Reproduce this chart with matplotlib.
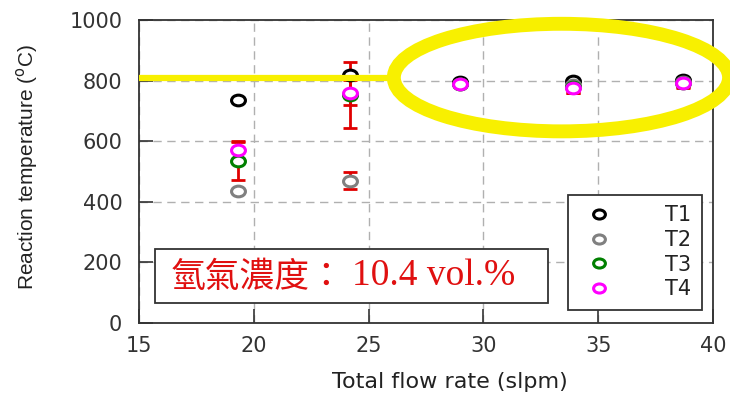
import matplotlib
matplotlib.use("Agg")
import matplotlib.pyplot as plt
import matplotlib.patches as patches
from matplotlib.path import Path
from matplotlib.transforms import Affine2D

# flow rate (slpm) and measured temperatures (degC)
flow = [19.3, 24.2, 29.0, 33.9, 38.7]
t1 = [735, 820, 795, 800, 803]
t2 = [435, 470, 790, 785, 795]
t3 = [535, 752, 790, 780, 793]
t4 = [570, 760, 788, 775, 792]
t2_err = [0, 27, 0, 0, 0]
t3_err = [62, 110, 6, 22, 15]
t4_err = [30, 42, 5, 15, 18]

series = [
    ("T1", t1, None, "black"),
    ("T2", t2, t2_err, "#808080"),
    ("T3", t3, t3_err, "#008000"),
    ("T4", t4, t4_err, "#ff00ff"),
]


def main():
    W, H = 730, 396
    fig = plt.figure(figsize=(W / 100, H / 100), dpi=100)
    ax = fig.add_axes([139 / W, (H - 323) / H, (713 - 139) / W, (323 - 20) / H])

    # slightly flattened open circle, like the original markers
    oval = Path.unit_circle().transformed(Affine2D().scale(1.3, 1.0))

    # error bars first, so markers sit on top
    for name, vals, err, col in series:
        if err is not None:
            ax.errorbar(flow, vals, yerr=err, fmt="none", ecolor="#e00000",
                        elinewidth=2, capsize=5, capthick=2, zorder=3)
    for name, vals, err, col in series:
        ax.plot(flow, vals, linestyle="none", marker=oval, ms=10, mfc="white",
                mec=col, mew=2.2, label=name, zorder=4)

    ax.set_xlim(15, 40)
    ax.set_ylim(0, 1000)
    ax.set_xticks([15, 20, 25, 30, 35, 40])
    ax.set_yticks([0, 200, 400, 600, 800, 1000])
    ax.grid(True, color="#b0b0b0", linestyle=(0, (6, 4)), linewidth=1)
    ax.set_axisbelow(True)
    ax.tick_params(direction="in", length=10, width=1.2, labelsize=15,
                   colors="#333333", labelcolor="#333333")
    ax.tick_params(axis="x", pad=9)
    ax.tick_params(axis="y", pad=12)
    for lab in ax.get_xticklabels() + ax.get_yticklabels():
        lab.set_family("DejaVu Sans")
    for sp in ax.spines.values():
        sp.set_color("#333333")
        sp.set_linewidth(1.3)

    fig.text(450 / W, 1 - 382 / H, "Total flow rate (slpm)", ha="center",
             va="center", fontsize=16, family="DejaVu Sans", color="#222222")
    fig.text(27 / W, 1 - 167 / H, r"Reaction temperature ($^{\rm o}$C)",
             rotation=90, ha="center", va="center", fontsize=15,
             family="Liberation Sans", color="#222222")

    leg = ax.legend(loc="upper right", bbox_to_anchor=(702 / W, 1 - 195 / H),
                    bbox_transform=fig.transFigure, borderaxespad=0,
                    fancybox=False, framealpha=1, edgecolor="#333333",
                    fontsize=15, handletextpad=2.2, labelspacing=0.22,
                    borderpad=0.5, handlelength=2.0, markerscale=0.85)
    leg.get_frame().set_linewidth(1.3)
    for t in leg.get_texts():
        t.set_family("DejaVu Sans")
        t.set_color("#222222")

    # concentration note box
    box = patches.Rectangle((155 / W, 1 - 303 / H), (548 - 155) / W, 54 / H,
                            transform=fig.transFigure, facecolor="white",
                            edgecolor="#333333", linewidth=1.3, zorder=5)
    fig.add_artist(box)
    fig.text(171 / W, 1 - 277 / H, "氫氣濃度：", ha="left", va="center",
             fontsize=25, color="#e01010", family="Noto Sans CJK TC",
             zorder=6)
    fig.text(352 / W, 1 - 276 / H, "10.4 vol.%", ha="left", va="center",
             fontsize=27, color="#e01010", family="Liberation Serif",
             zorder=6)

    # yellow highlight
    ax.plot([15, 26.1], [810, 810], color="#f8f000", lw=4.5,
            solid_capstyle="butt", clip_on=False, zorder=6)
    ell = patches.Ellipse((33.4, 810), 14.6, 355, fill=False,
                          edgecolor="#f8f000", linewidth=10, clip_on=False,
                          zorder=6)
    ax.add_patch(ell)

    fig.savefig("out.png", dpi=100)


if __name__ == "__main__":
    main()
